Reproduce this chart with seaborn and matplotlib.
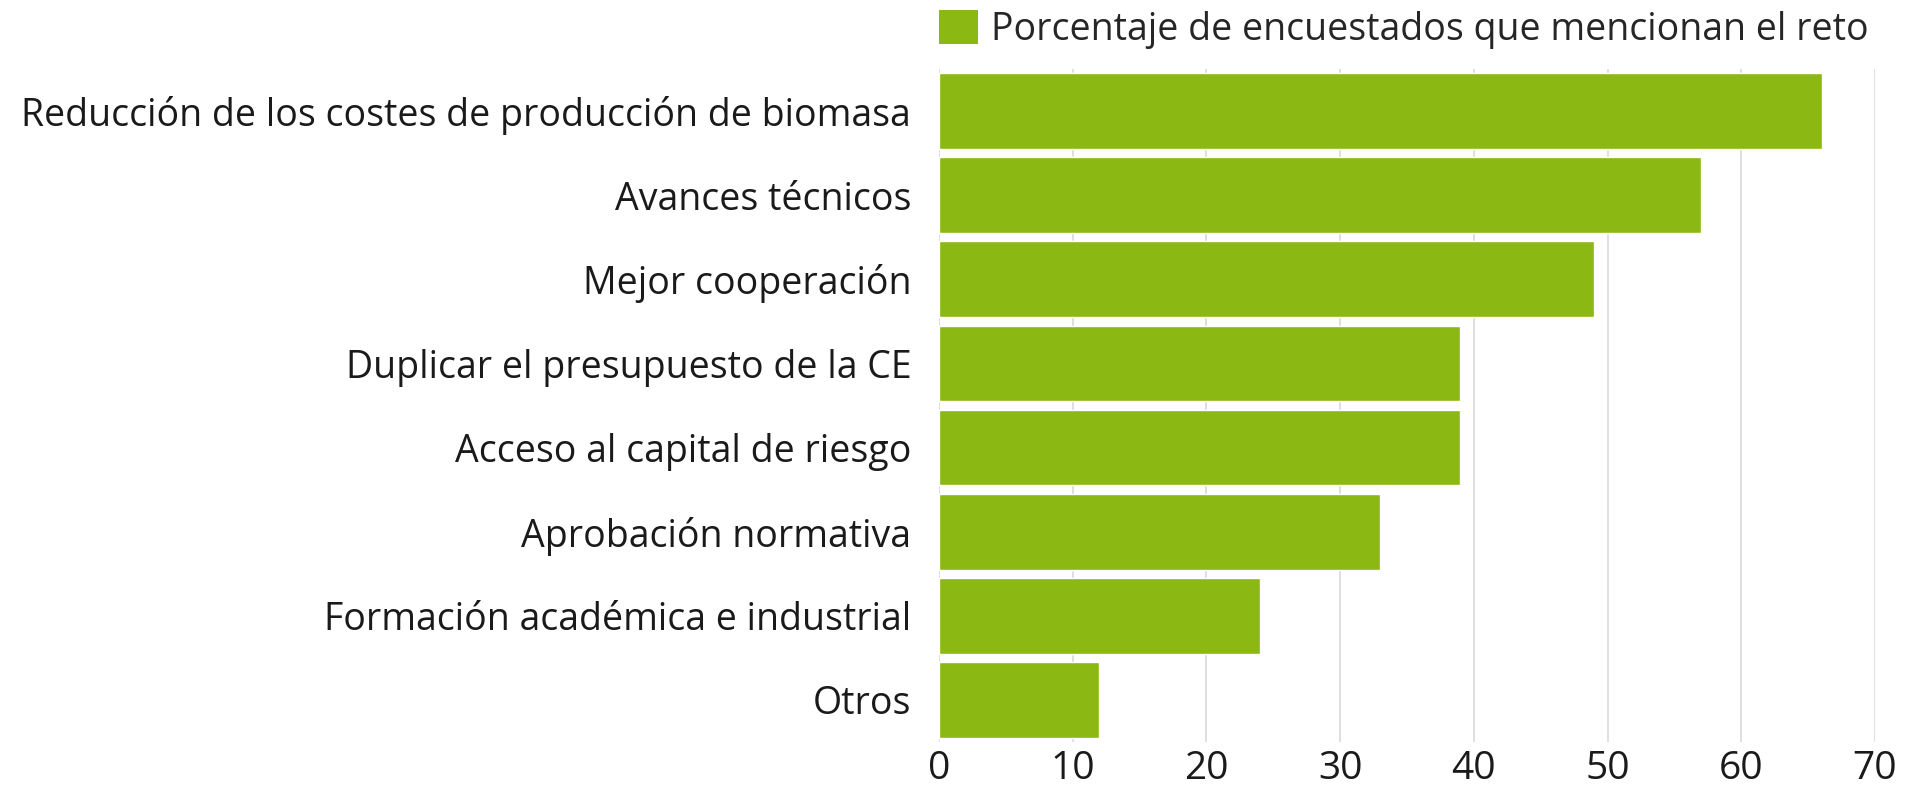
import pandas as pd
import matplotlib
matplotlib.use("Agg")
import matplotlib.pyplot as plt
import seaborn as sns
from matplotlib.patches import Patch

# data
retos = [
    "Reducción de los costes de producción de biomasa",
    "Avances técnicos",
    "Mejor cooperación",
    "Duplicar el presupuesto de la CE",
    "Acceso al capital de riesgo",
    "Aprobación normativa",
    "Formación académica e industrial",
    "Otros",
]
porcentaje = [66, 57, 49, 39, 39, 33, 24, 12]
serie = "Porcentaje de encuestados que mencionan el reto"
xticks = [0, 10, 20, 30, 40, 50, 60, 70]

df = pd.DataFrame({"reto": retos, "pct": porcentaje})

sns.set_style("white")
plt.rcParams["font.family"] = ["Open Sans", "DejaVu Sans"]

verde = "#8cb813"

fig = plt.figure(figsize=(19.1, 7.9), dpi=100)
ax = fig.add_axes([0.4916, 0.0608, 0.9817 - 0.4916, 0.9127 - 0.0608])

sns.barplot(data=df, x="pct", y="reto", orient="h", color=verde,
            saturation=1, width=0.9, ax=ax, zorder=3)

ax.set_xlim(0, 70)
ax.set_ylim(7.5, -0.5)
ax.set_xticks(xticks)
ax.xaxis.grid(True, color="#d9d9d9", linewidth=1.2, zorder=0)
ax.yaxis.grid(False)
ax.set_xlabel("")
ax.set_ylabel("")
for s in ax.spines.values():
    s.set_visible(False)
ax.tick_params(axis="y", length=0, pad=20, labelsize=27, labelcolor="#1a1a1a")
ax.tick_params(axis="x", length=0, pad=6, labelsize=28, labelcolor="#1a1a1a")

# legend square sits flush with the start of the bars
ax.legend(handles=[Patch(facecolor=verde, edgecolor="none", label=serie)],
          loc="lower left", bbox_to_anchor=(-0.018, 1.005), frameon=False,
          fontsize=27, handlelength=1.05, handleheight=1.05,
          handletextpad=0.35, borderpad=0, borderaxespad=0.45)

fig.savefig("out.png", dpi=100)
